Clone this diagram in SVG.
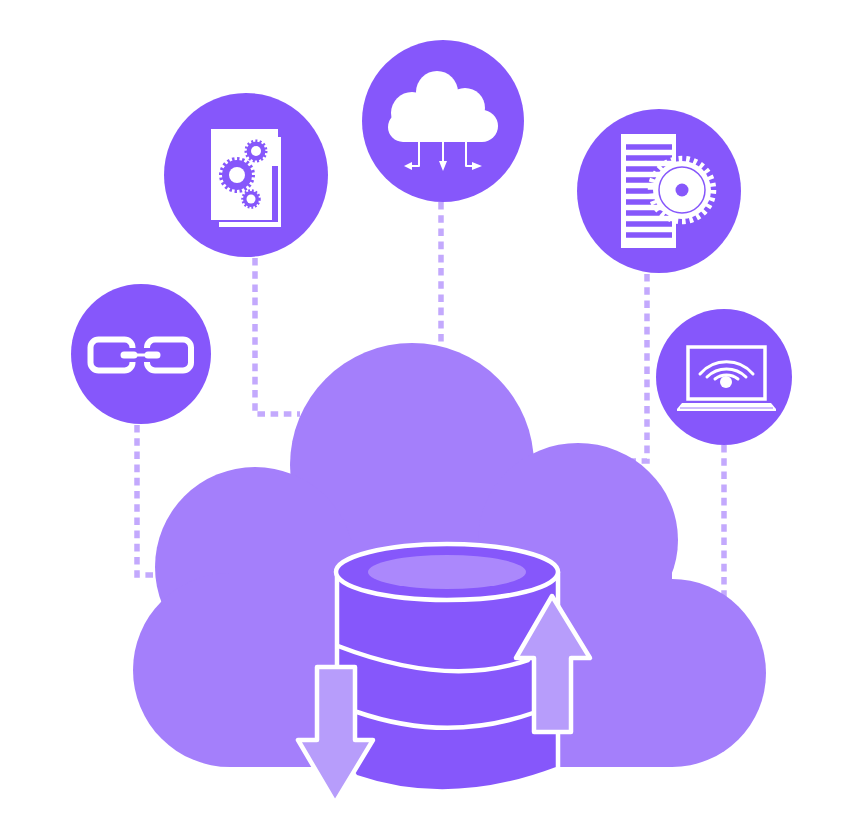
<svg xmlns="http://www.w3.org/2000/svg" width="856" height="832" viewBox="0 0 856 832">
<style>
.disc{fill:#8657fb}
.cloud{fill:#a47ffb}
.w{fill:#fff}
.p{fill:#8657fb}
.link{fill:none;stroke:#c3a9fd;stroke-width:5.500;stroke-dasharray:7.6 5.600}
.ws{fill:none;stroke:#fff;stroke-linecap:round;stroke-linejoin:round}
.arrow{fill:#b79dfb;stroke:#fff;stroke-width:4.500;stroke-linejoin:round}
.teeth{fill:none;stroke:#8657fb}
</style>
<rect width="856" height="832" fill="#fff"/>
<g id="connectors">
<path class="link" d="M137 425V575H158"/>
<path class="link" d="M255 258V414H300"/>
<path class="link" d="M441 202V345"/>
<path class="link" d="M647 274V461H632"/>
<path class="link" d="M724 445V600"/>
</g>
<g id="big-cloud" class="cloud">
<circle cx="412" cy="465" r="122"/>
<ellipse cx="578" cy="540" rx="100" ry="97"/>
<circle cx="672" cy="673" r="94"/>
<circle cx="255" cy="567" r="100"/>
<circle cx="230" cy="670" r="97"/>
<rect x="230" y="540" width="442" height="227"/>
</g>
<g id="node-chain">
<circle class="disc" cx="141" cy="354" r="70"/>
<rect x="90.500" y="339.500" width="42" height="31" rx="8" fill="none" stroke="#fff" stroke-width="6"/>
<rect x="147" y="339.500" width="44" height="31" rx="8" fill="none" stroke="#fff" stroke-width="6"/>
<path d="M132 348V362M147 348V362" stroke="#8657fb" stroke-width="8" fill="none"/>
<path d="M124 355H158" stroke="#fff" stroke-width="3" fill="none"/>
<path d="M124 355H134M148 355H157" stroke="#fff" stroke-width="7" stroke-linecap="round" fill="none"/>
</g>
<g id="node-gears">
<circle class="disc" cx="246" cy="175" r="82"/>
<path class="w" d="M219 222H278V137H281V227H219Z"/>
<path class="w" d="M211 129H278V166H272V220H211Z"/>
<circle class="p" cx="237" cy="175" r="15"/>
<circle class="teeth" cx="237" cy="175" r="16" stroke-width="4" stroke-dasharray="2.4 2.6"/>
<circle class="w" cx="237" cy="175" r="8"/>
<circle class="p" cx="256" cy="151" r="9.500"/>
<circle class="teeth" cx="256" cy="151" r="10" stroke-width="3" stroke-dasharray="2 2.2"/>
<circle class="w" cx="256" cy="151" r="5"/>
<circle class="p" cx="251" cy="199" r="8"/>
<circle class="teeth" cx="251" cy="199" r="8.500" stroke-width="2.500" stroke-dasharray="1.8 1.9"/>
<circle class="w" cx="251" cy="199" r="4.500"/>
</g>
<g id="node-cloud">
<circle class="disc" cx="443" cy="121" r="81"/>
<g class="w">
<circle cx="437" cy="92" r="21"/>
<circle cx="412" cy="113" r="21"/>
<circle cx="403" cy="127" r="15"/>
<circle cx="465" cy="108" r="20"/>
<circle cx="482" cy="126" r="16"/>
<rect x="403" y="105" width="79" height="37"/>
<path d="M404 166L412 162V170ZM443 171L439 161H447ZM482 166L472 162V170Z"/>
</g>
<path class="ws" stroke-width="2" d="M419 142V166H410M443 142V163M466 142V166H474" stroke-linecap="butt"/>
</g>
<g id="node-document">
<circle class="disc" cx="659" cy="191" r="82"/>
<rect class="w" x="621" y="134" width="55" height="114"/>
<path d="M626 147H672M626 158H672M626 169H672M626 180H672M626 191H672M626 202H672M626 213H672M626 224H672M626 235H672" stroke="#8657fb" stroke-width="5.500" fill="none"/>
<circle class="w" cx="682" cy="190" r="29"/>
<circle cx="682" cy="190" r="31" fill="none" stroke="#fff" stroke-width="6.500" stroke-dasharray="3.6 3.900"/>
<circle cx="682" cy="190" r="23" fill="none" stroke="#8657fb" stroke-width="1.500"/>
<circle class="p" cx="682" cy="190" r="6.500"/>
</g>
<g id="node-laptop">
<circle class="disc" cx="724" cy="377" r="68"/>
<rect x="688" y="347" width="77" height="52" fill="none" stroke="#fff" stroke-width="3.500"/>
<path class="w" d="M682 403H771L776 409V411H677V409Z"/>
<path d="M680 408H773" stroke="#8657fb" stroke-width="0.800" fill="none"/>
<circle class="w" cx="726" cy="382" r="6"/>
<path class="ws" stroke-width="3" d="M700 374A35 35 0 0 1 753 374M707 377A27.800 27.800 0 0 1 746 377M715 379A18.500 18.500 0 0 1 738 379"/>
</g>
<g id="database">
<path class="p" d="M336 572V745L357 775Q450 807 556 767V572Z"/>
<path class="ws" stroke-width="4.500" d="M337 572V668M558 572V767" stroke-linecap="butt"/>
<ellipse class="p" cx="447" cy="572" rx="111" ry="28" stroke="#fff" stroke-width="4.500"/>
<ellipse cx="447" cy="572" rx="79" ry="17" fill="#ab88fc"/>
<path class="ws" stroke-width="4.500" d="M338 646Q447 688 528 660M357 712Q447 743 533 713" stroke-linecap="butt"/>
</g>
<g id="arrow-up">
<path class="arrow" d="M552 596L590 658H571V732H534V658H516Z"/>
</g>
<g id="arrow-down">
<path class="arrow" d="M317 667H355V740H373L335 803L298 740H317Z"/>
</g>
</svg>
